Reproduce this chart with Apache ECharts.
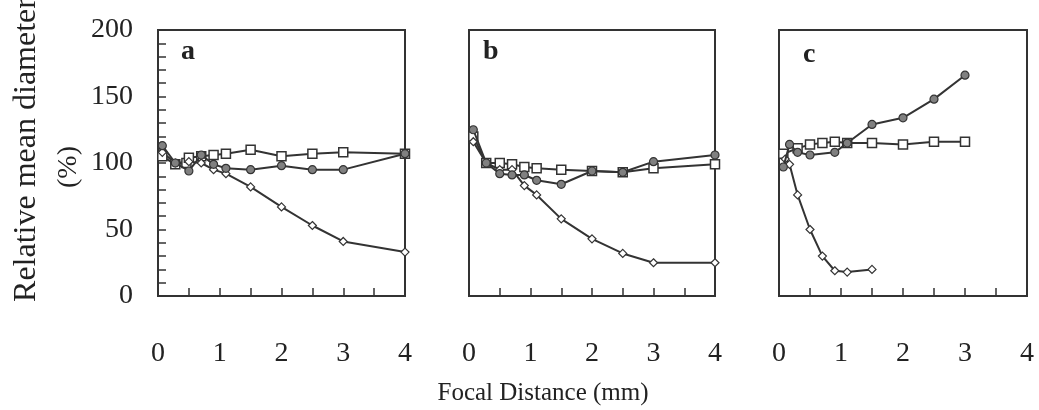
<!DOCTYPE html>
<html>
<head>
<meta charset="utf-8">
<script src="https://cdn.jsdelivr.net/npm/echarts@6/dist/echarts.min.js"></script>
<style>
html,body{margin:0;padding:0;background:#fff;}
#chart{width:1039px;height:410px;}
</style>
</head>
<body>
<div id="chart"></div>
<script>
// ---- data ----
const panelLabels = ['a', 'b', 'c'];
const xTicks = [0, 1, 2, 3, 4];
const yTicks = [0, 50, 100, 150, 200];

// panel a
const aSquareX  = [0.07, 0.28, 0.46, 0.5, 0.7, 0.9, 1.1, 1.5, 2, 2.5, 3, 4];
const aSquareY  = [105, 99, 100, 104, 105, 106, 107, 110, 105, 107, 108, 107];
const aCircleX  = [0.07, 0.28, 0.5, 0.7, 0.9, 1.1, 1.5, 2, 2.5, 3, 4];
const aCircleY  = [113, 100, 94, 106, 99, 96, 95, 98, 95, 95, 107];
const aDiamondX = [0.07, 0.28, 0.5, 0.7, 0.9, 1.1, 1.5, 2, 2.5, 3, 4];
const aDiamondY = [108, 100, 101, 100, 95, 92, 82, 67, 53, 41, 33];

// panel b
const bSquareX  = [0.07, 0.28, 0.5, 0.7, 0.9, 1.1, 1.5, 2, 2.5, 3, 4];
const bSquareY  = [120, 100, 100, 99, 97, 96, 95, 94, 93, 96, 99];
const bCircleX  = [0.07, 0.28, 0.5, 0.7, 0.9, 1.1, 1.5, 2, 2.5, 3, 4];
const bCircleY  = [125, 100, 92, 91, 91, 87, 84, 94, 93, 101, 106];
const bDiamondX = [0.07, 0.28, 0.5, 0.7, 0.9, 1.1, 1.5, 2, 2.5, 3, 4];
const bDiamondY = [116, 100, 95, 95, 83, 76, 58, 43, 32, 25, 25];

// panel c
const cSquareX  = [0.07, 0.3, 0.5, 0.7, 0.9, 1.1, 1.5, 2, 2.5, 3];
const cSquareY  = [107, 111, 114, 115, 116, 115, 115, 114, 116, 116];
const cCircleX  = [0.07, 0.17, 0.3, 0.5, 0.9, 1.1, 1.5, 2, 2.5, 3];
const cCircleY  = [97, 114, 108, 106, 108, 115, 129, 134, 148, 166];
const cDiamondX = [0.1, 0.17, 0.3, 0.5, 0.7, 0.9, 1.1, 1.5];
const cDiamondY = [103, 99, 76, 50, 30, 19, 18, 20];

// ---- layout / style ----
const FONT = '"Liberation Serif", "DejaVu Serif", serif';
const INK = '#333';
const grids = [
  {left: 158, top: 30, width: 247, height: 266},
  {left: 469, top: 30, width: 246, height: 266},
  {left: 779, top: 30, width: 248, height: 266}
];

function pairs(xs, ys){ return xs.map((x, i) => [x, ys[i]]); }

const squareStyle = {symbol: 'rect', symbolSize: 9, itemStyle: {color: '#fff', borderColor: INK, borderWidth: 1.5}};
const circleStyle = {symbol: 'circle', symbolSize: 8, itemStyle: {color: '#808080', borderColor: INK, borderWidth: 1.2}};
const diamondStyle = {symbol: 'diamond', symbolSize: 8, itemStyle: {color: '#fff', borderColor: INK, borderWidth: 1.2}};

const seriesDefs = [
  [0, aSquareX, aSquareY, squareStyle],
  [0, aCircleX, aCircleY, circleStyle],
  [0, aDiamondX, aDiamondY, diamondStyle],
  [1, bSquareX, bSquareY, squareStyle],
  [1, bCircleX, bCircleY, circleStyle],
  [1, bDiamondX, bDiamondY, diamondStyle],
  [2, cSquareX, cSquareY, squareStyle],
  [2, cCircleX, cCircleY, circleStyle],
  [2, cDiamondX, cDiamondY, diamondStyle]
];

const series = seriesDefs.map(([p, xs, ys, st]) => Object.assign({
  type: 'line',
  xAxisIndex: p, yAxisIndex: p,
  data: pairs(xs, ys),
  showSymbol: true,
  animation: false,
  lineStyle: {color: INK, width: 2},
  z: st === circleStyle ? 3 : 2
}, st));

const xAxes = grids.map((g, i) => ({
  gridIndex: i, type: 'value', min: 0, max: 4, interval: 0.5,
  axisLine: {show: false},
  axisTick: {show: true, inside: true, length: 8, lineStyle: {color: INK, width: 1.5}},
  splitLine: {show: false},
  axisLabel: {
    show: true, margin: 44, fontFamily: FONT, fontSize: 28, color: '#222',
    formatter: v => xTicks.indexOf(v) >= 0 ? String(v) : ''
  }
}));

const yAxes = grids.map((g, i) => ({
  gridIndex: i, type: 'value', min: 0, max: 200, interval: 10,
  axisLine: {show: false},
  axisTick: {show: i === 0, inside: true, length: 8, lineStyle: {color: INK, width: 1.5}},
  splitLine: {show: false},
  axisLabel: {
    show: i === 0, margin: 25, fontFamily: FONT, fontSize: 28, color: '#222',
    formatter: v => yTicks.indexOf(v) >= 0 ? String(v) : ''
  }
}));

const gridOpts = grids.map(g => Object.assign({show: true, borderColor: INK, borderWidth: 2, backgroundColor: 'transparent'}, g));

const letterPos = [[181, 62], [483, 62], [803, 65]];
const graphics = panelLabels.map((t, i) => ({
  type: 'text', left: letterPos[i][0], top: letterPos[i][1] - 24,
  style: {text: t, font: 'bold 28px ' + FONT, fill: '#222'}
}));
graphics.push({
  type: 'text', x: 27, y: 150, rotation: Math.PI / 2,
  style: {text: 'Relative mean diameter', font: '32px ' + FONT, fill: '#222', align: 'center', verticalAlign: 'middle'}
});
graphics.push({
  type: 'text', x: 69, y: 167, rotation: Math.PI / 2,
  style: {text: '(%)', font: '28px ' + FONT, fill: '#222', align: 'center', verticalAlign: 'middle'}
});
graphics.push({
  type: 'text', x: 543, y: 393,
  style: {text: 'Focal Distance (mm)', font: '25px ' + FONT, fill: '#222', align: 'center', verticalAlign: 'middle'}
});

const chart = echarts.init(document.getElementById('chart'), null, {renderer: 'canvas'});
chart.setOption({
  backgroundColor: '#fff',
  animation: false,
  grid: gridOpts,
  xAxis: xAxes,
  yAxis: yAxes,
  series: series,
  graphic: graphics
});
</script>
</body>
</html>
